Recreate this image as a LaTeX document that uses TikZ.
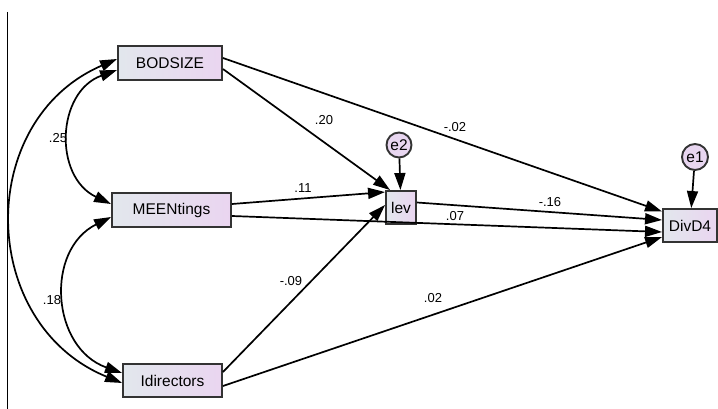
\documentclass[tikz,border=0pt]{standalone}
\usepackage{fontspec}
\setmainfont{Liberation Sans}
\usetikzlibrary{arrows.meta}
\definecolor{boxL}{HTML}{E2E7ED}
\definecolor{boxR}{HTML}{EAD5F0}
\definecolor{errF}{HTML}{E8D6F0}
\definecolor{edge}{HTML}{333333}
\begin{document}
\begin{tikzpicture}[x=1pt,y=-1pt,
  obsbox/.style={draw=edge, line width=1.9pt, left color=boxL, right color=boxR,
    minimum height=34pt, inner sep=0pt, font=\fontsize{15.5}{15.5}\selectfont},
  errcirc/.style={circle, draw=edge, line width=1.9pt, fill=errF, minimum size=25pt,
    inner sep=0pt, font=\fontsize{15.5}{15.5}\selectfont},
  regarrow/.style={line width=1.7pt, -{Triangle[length=17pt,width=11pt]}},
  covarrow/.style={line width=1.7pt, {Triangle[length=17pt,width=11pt]}-{Triangle[length=17pt,width=11pt]}},
  coef/.style={font=\fontsize{13}{13}\selectfont, inner sep=0pt}]
\useasboundingbox (0,0) rectangle (718,409);
\coordinate (vtop) at (7,12);
\coordinate (vbot) at (7,409);
\draw[line width=0.8pt] (vtop) -- (vbot);

\node[obsbox, minimum width=104pt] (bod) at (170,63) {BODSIZE};
\node[obsbox, minimum width=119pt] (meen) at (171.5,210) {MEENtings};
\node[obsbox, minimum width=99pt, minimum height=33pt] (idir) at (172.5,380.5) {Idirectors};
\node[obsbox, minimum width=30pt, minimum height=33pt] (lev) at (401,207.5) {lev};
\node[obsbox, minimum width=54pt, minimum height=33pt] (div) at (690,225.5) {DivD4};
\node[errcirc] (e2) at (399,145) {e2};
\node[errcirc, minimum size=26pt] (e1) at (695,157) {e1};

% regression paths
\draw[regarrow] ([yshift=5pt]bod.east) -- ([yshift=14pt]div.west);
\draw[regarrow] ([yshift=-6pt]bod.east) -- ([xshift=5pt]lev.north west);
\draw[regarrow] ([yshift=6pt]meen.east) -- ([yshift=-2pt]lev.north west);
\draw[regarrow] ([yshift=-6pt]meen.east) -- ([yshift=-6.5pt]div.west);
\draw[regarrow] ([yshift=5pt]lev.east) -- ([yshift=5.5pt]div.west);
\draw[regarrow] ([yshift=8.5pt]idir.east) -- ([yshift=2.5pt]lev.west);
\draw[regarrow] ([yshift=-5.5pt]idir.east) -- ([yshift=-11.5pt]div.west);
\draw[regarrow] (e2) -- (lev);
\draw[regarrow] (e1) -- (div);

% covariances
\draw[covarrow] ([yshift=-7pt]bod.west) .. controls (56.4,91.9) and (53.2,176.6) .. ([yshift=6pt]meen.west);
\draw[covarrow] ([yshift=-7pt]meen.west) .. controls (44.7,250) and (51.1,347.9) .. ([yshift=7.5pt]idir.west);
\draw[covarrow] ([yshift=4pt]bod.west) .. controls (-25.6,120.5) and (-22.3,324) .. ([yshift=-2.5pt]idir.west);

% coefficients
\node[coef] (c25) at (58,138) {.25};
\node[coef] (c18) at (52,300) {.18};
\node[coef] (c20) at (324,120) {.20};
\node[coef] (c11) at (303,188) {.11};
\node[coef] (c09) at (291,281) {-.09};
\node[coef] (c02a) at (455,127) {-.02};
\node[coef] (c16) at (550,202) {-.16};
\node[coef] (c07) at (455,216) {.07};
\node[coef] (c02b) at (433,298) {.02};
\end{tikzpicture}
\end{document}
